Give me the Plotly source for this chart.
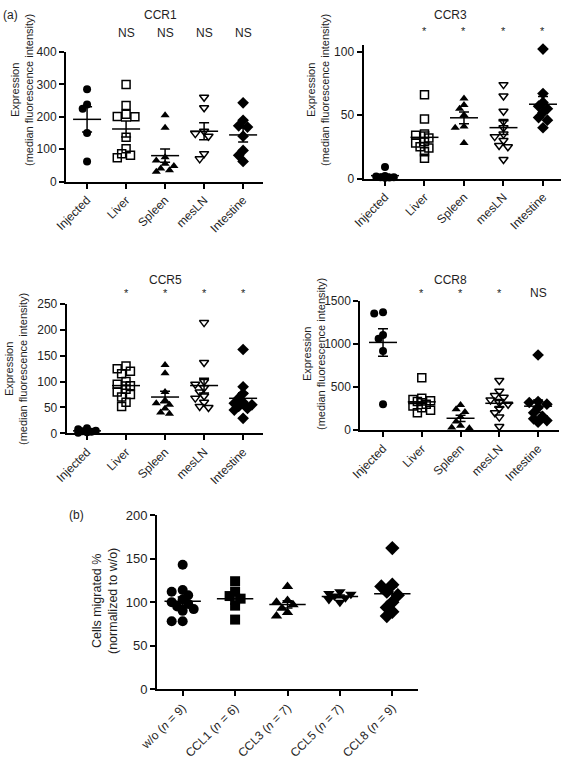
import numpy as np
import plotly.graph_objects as go

W, H = 566, 760

# ---------------- data ----------------
organs = ["Injected", "Liver", "Spleen", "mesLN", "Intestine"]

ccr1_values = [
    [285, 238, 225, 150, 62],
    [300, 235, 208, 201, 200, 137, 101, 86, 81, 73],
    [205, 166, 75, 65, 55, 48, 40, 35, 30],
    [260, 228, 155, 148, 140, 86, 70],
    [243, 189, 172, 168, 140, 96, 81, 62],
]
ccr3_values = [
    [9, 2, 1.5, 1, 0.5, 1, 0.8],
    [66, 47, 35, 34, 32, 29, 28, 25, 24, 21, 16],
    [63, 58, 55, 50, 41, 40, 28],
    [74, 65, 53, 45, 40, 35, 33, 30, 26, 25, 15],
    [102, 67, 60, 57, 55, 52, 48, 46, 40],
]
ccr5_values = [
    [10, 8, 5, 4, 3, 2, 1],
    [130, 125, 120, 115, 100, 95, 92, 85, 80, 75, 70, 60, 52],
    [132, 116, 80, 64, 58, 55, 48, 40, 38],
    [214, 137, 100, 95, 88, 80, 72, 68, 60, 52, 50],
    [162, 90, 77, 68, 60, 58, 55, 52, 48, 45, 29],
]
ccr8_values = [
    [1370, 1355, 1105, 1060, 920, 300],
    [608, 370, 355, 340, 330, 300, 280, 260, 230, 200],
    [290, 240, 210, 150, 100, 50, 30, 20],
    [575, 450, 400, 380, 350, 320, 300, 250, 200, 150, 40],
    [872, 330, 320, 300, 260, 200, 160, 130, 110, 90],
]
ccr1_sig = ["", "NS", "NS", "NS", "NS"]
ccr3_sig = ["", "*", "*", "*", "*"]
ccr5_sig = ["", "*", "*", "*", "*"]
ccr8_sig = ["", "*", "*", "*", "NS"]

migration_labels = ["w/o (<i>n</i> = 9)", "CCL1 (<i>n</i> = 6)", "CCL3 (<i>n</i> = 7)",
                    "CCL5 (<i>n</i> = 7)", "CCL8 (<i>n</i> = 9)"]
migration_values = [
    [143, 114, 112, 108, 103, 100, 98, 95, 92, 90, 78, 78],
    [124, 112, 107, 104, 96, 80],
    [118, 102, 100, 97, 93, 88, 84],
    [112, 110, 109, 107, 105, 103, 100],
    [162, 120, 118, 112, 108, 100, 94, 89, 84],
]

FONT = "Liberation Sans, Arial, Helvetica, sans-serif"
TXT = "#1e1e1e"


def swarm(vals, px_per_unit, px_per_cat, msize):
    """Deterministic column-scatter layout (GraphPad style), offsets in category units."""
    step = 0.55 * msize
    collide = 0.7 * msize
    order = sorted(range(len(vals)), key=lambda i: -vals[i])
    placed = []
    offs = [0.0] * len(vals)
    cands = [0, -1, 1, -2, 2]
    for i in order:
        y = vals[i] * px_per_unit
        best_x, best_d = 0.0, -1.0
        for k in cands:
            x = k * step
            dmin = min([np.hypot(x - px, y - py) for px, py in placed] or [1e9])
            if dmin >= collide:
                best_x = x
                break
            if dmin > best_d + 1e-9:
                best_d, best_x = dmin, x
        placed.append((best_x, y))
        offs[i] = best_x / px_per_cat
    return offs


def px2x(p):
    return p / W


def px2y(p):
    return 1 - p / H


panels = [
    dict(title="CCR1", data=ccr1_values, sig=ccr1_sig, labels=organs,
         xpx=(66, 263), ypx=(52, 181.5), yr=[0, 400], dtick=100, xr=[-0.54, 4.51],
         title_xy=(160, 15), sig_y=33, ytitle_xy=(22, 90),
         ytitle="Expression<br>(median fluorescence intensity)", ytfs=11, ytick=12,
         symbols=["circle", "square-open", "triangle-up", "triangle-down-open", "diamond"],
         msize=8, mw=20, cap=5),
    dict(title="CCR3", data=ccr3_values, sig=ccr3_sig, labels=organs,
         xpx=(363.5, 561), ypx=(45.3, 178.5), yr=[0, 105], dtick=50, xr=[-0.544, 4.456],
         title_xy=(450, 15), sig_y=31, ytitle_xy=(318, 90),
         ytitle="Expression<br>(median fluorescence intensity)", ytfs=11, ytick=12,
         symbols=["circle", "square-open", "triangle-up", "triangle-down-open", "diamond"],
         msize=8, mw=20, cap=5),
    dict(title="CCR5", data=ccr5_values, sig=ccr5_sig, labels=organs,
         xpx=(66.7, 263), ypx=(304, 433.3), yr=[0, 250], dtick=50, xr=[-0.52, 4.51],
         title_xy=(165, 280), sig_y=293, ytitle_xy=(16, 369),
         ytitle="Expression<br>(median fluorescence intensity)", ytfs=11, ytick=12,
         symbols=["circle", "square-open", "triangle-up", "triangle-down-open", "diamond"],
         msize=8, mw=20, cap=5),
    dict(title="CCR8", data=ccr8_values, sig=ccr8_sig, labels=organs,
         xpx=(360.3, 559), ypx=(301, 430), yr=[0, 1500], dtick=500, xr=[-0.586, 4.54],
         title_xy=(450, 280), sig_y=293, ytitle_xy=(314, 354),
         ytitle="Expression<br>(median fluorescence intensity)", ytfs=11, ytick=12,
         symbols=["circle", "square-open", "triangle-up", "triangle-down-open", "diamond"],
         msize=8, mw=20, cap=5),
    dict(title=None, data=migration_values, sig=None, labels=migration_labels,
         xpx=(157, 418), ypx=(515, 689.3), yr=[0, 200], dtick=50, xr=[-0.49, 4.49],
         title_xy=None, sig_y=None, ytitle_xy=(105, 601),
         ytitle="Cells migrated %<br>(normalized to w/o)", ytfs=12.5, ytick=13,
         symbols=["circle", "square", "triangle-up", "triangle-down", "diamond"],
         msize=10, mw=26, cap=5),
]

fig = go.Figure()
annotations = []
layout_axes = {}

for pi, p in enumerate(panels):
    n = pi + 1
    xa = "x" if n == 1 else f"x{n}"
    ya = "y" if n == 1 else f"y{n}"
    xkey = "xaxis" if n == 1 else f"xaxis{n}"
    ykey = "yaxis" if n == 1 else f"yaxis{n}"

    xdom = [px2x(p["xpx"][0]), px2x(p["xpx"][1])]
    ydom = [px2y(p["ypx"][1]), px2y(p["ypx"][0])]
    plot_h = p["ypx"][1] - p["ypx"][0]
    plot_w = p["xpx"][1] - p["xpx"][0]
    px_per_unit = plot_h / (p["yr"][1] - p["yr"][0])
    px_per_cat = plot_w / (p["xr"][1] - p["xr"][0])

    for ci, vals in enumerate(p["data"]):
        offs = swarm(vals, px_per_unit, px_per_cat, p["msize"])
        xs = [ci + o for o in offs]
        sym = p["symbols"][ci]
        is_open = sym.endswith("-open")
        size = p["msize"] + (1 if sym.startswith("diamond") else 0)
        fig.add_trace(go.Scatter(
            x=xs, y=vals, mode="markers", xaxis=xa, yaxis=ya,
            marker=dict(symbol=sym, size=size, color="black",
                        line=dict(width=1.5 if is_open else 0, color="black")),
            cliponaxis=False, showlegend=False, hoverinfo="y"))
        arr = np.array(vals, dtype=float)
        mean = arr.mean()
        sem = arr.std(ddof=1) / np.sqrt(len(arr))
        fig.add_trace(go.Scatter(
            x=[ci], y=[mean], mode="markers", xaxis=xa, yaxis=ya,
            marker=dict(symbol="line-ew", size=p["mw"], color="black",
                        line=dict(width=1.5, color="black")),
            error_y=dict(type="data", array=[sem], visible=True, color="black",
                         thickness=1.5, width=p["cap"]),
            cliponaxis=False, showlegend=False, hoverinfo="y"))

    layout_axes[xkey] = dict(
        domain=xdom, anchor=ya, range=p["xr"], tickmode="array", automargin=False,
        tickvals=list(range(len(p["labels"]))), ticktext=p["labels"],
        tickangle=-45, showline=True, linewidth=2, linecolor="black",
        ticks="outside", ticklen=5, tickwidth=2, tickcolor="black",
        showgrid=False, zeroline=False,
        tickfont=dict(size=12, color=TXT, family=FONT))
    layout_axes[ykey] = dict(
        domain=ydom, anchor=xa, range=p["yr"], dtick=p["dtick"], tick0=0, automargin=False,
        showline=True, linewidth=2, linecolor="black",
        ticks="outside", ticklen=5, tickwidth=2, tickcolor="black",
        showgrid=False, zeroline=False,
        tickfont=dict(size=p["ytick"], color=TXT, family=FONT))

    if p["title"]:
        annotations.append(dict(
            text=p["title"], x=px2x(p["title_xy"][0]), y=px2y(p["title_xy"][1]),
            xref="paper", yref="paper", showarrow=False, xanchor="center", yanchor="middle",
            font=dict(size=12, color=TXT, family=FONT)))
    if p["sig"]:
        for ci, s in enumerate(p["sig"]):
            if s:
                annotations.append(dict(
                    text=s, x=ci, y=px2y(p["sig_y"] + (0 if s == "*" else 0)),
                    xref=xa, yref="paper", showarrow=False,
                    xanchor="center", yanchor="middle",
                    font=dict(size=12 if s == "NS" else 11, color=TXT, family=FONT)))
    annotations.append(dict(
        text=p["ytitle"], x=px2x(p["ytitle_xy"][0]), y=px2y(p["ytitle_xy"][1]),
        xref="paper", yref="paper", showarrow=False, textangle=-90,
        xanchor="center", yanchor="middle", align="center",
        font=dict(size=p["ytfs"], color=TXT, family=FONT)))

annotations.append(dict(text="(a)", x=px2x(1), y=px2y(15), xref="paper", yref="paper",
                        showarrow=False, xanchor="left", yanchor="middle",
                        font=dict(size=12, color=TXT, family=FONT)))
annotations.append(dict(text="(b)", x=px2x(76), y=px2y(515), xref="paper", yref="paper",
                        showarrow=False, xanchor="center", yanchor="middle",
                        font=dict(size=12, color=TXT, family=FONT)))

fig.update_layout(
    template="none",
    width=W, height=H, margin=dict(l=0, r=0, t=0, b=0, pad=0), autosize=False,
    paper_bgcolor="white", plot_bgcolor="white",
    font=dict(family=FONT, color=TXT),
    annotations=annotations, showlegend=False,
    **layout_axes)

fig.write_html(
    "out.html",
    config={"displayModeBar": False, "staticPlot": True},
    post_script="document.body.style.margin='0';document.body.style.padding='0';"
                "document.documentElement.style.overflow='hidden';")
